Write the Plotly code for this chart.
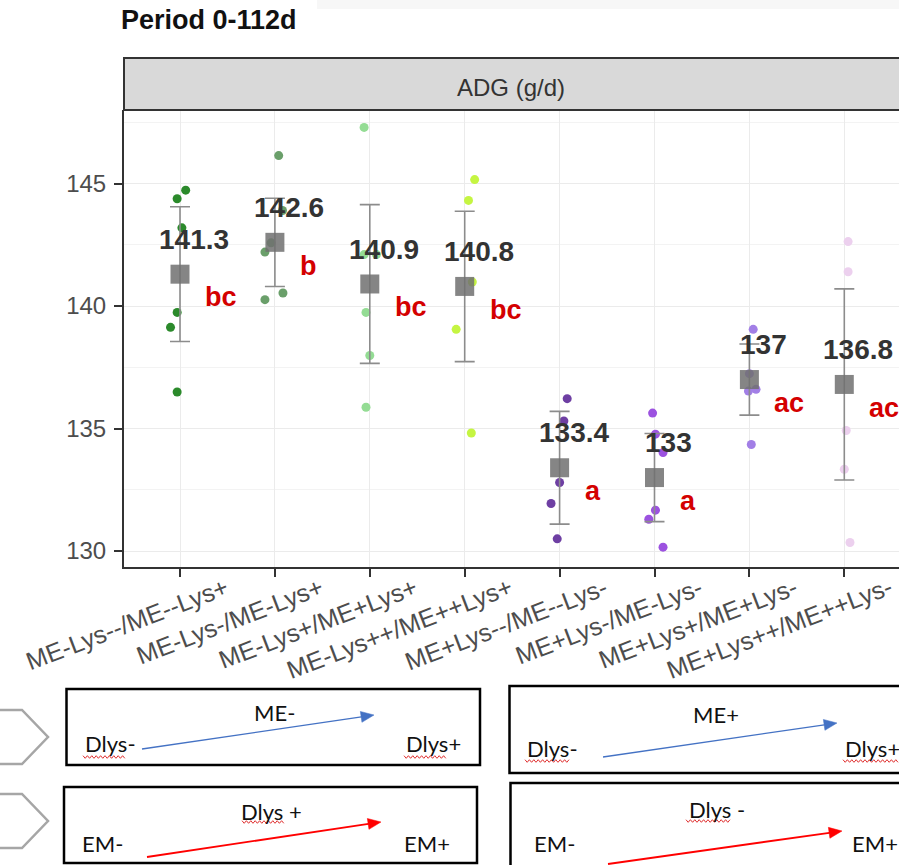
import plotly.graph_objects as go

W, H = 899, 865
FONT = "Liberation Sans, Arial, sans-serif"
NOTE_FONT = "Lato, Carlito, Calibri, sans-serif"

# ---------------------------------------------------------------- data
treatments = [
    "ME-Lys--/ME--Lys+", "ME-Lys-/ME-Lys+", "ME-Lys+/ME+Lys+", "ME-Lys++/ME++Lys+",
    "ME+Lys--/ME--Lys-", "ME+Lys-/ME-Lys-", "ME+Lys+/ME+Lys-", "ME+Lys++/ME++Lys-",
]
adg_mean = [141.3, 142.6, 140.9, 140.8, 133.4, 133.0, 137.0, 136.8]
adg_se = [2.75, 1.8, 3.24, 3.07, 2.3, 1.8, 1.45, 3.9]
sig_letters = ["bc", "b", "bc", "bc", "a", "a", "ac", "ac"]

# individual pen ADG values per treatment
pen_adg = [
    [144.38, 144.73, 143.19, 139.74, 139.13, 136.49],
    [146.14, 143.90, 142.58, 142.20, 140.26, 140.53],
    [147.29, 142.10, 142.10, 139.74, 137.98, 135.87],
    [145.16, 144.31, 140.98, 139.05, 134.82],
    [136.22, 135.31, 132.80, 131.94, 130.50],
    [135.63, 134.77, 134.02, 131.67, 131.30, 130.16],
    [139.05, 137.24, 136.53, 136.60, 134.35],
    [142.63, 141.40, 134.92, 133.34, 130.35],
]
# horizontal jitter of the pen points (category units)
pen_jitter = [
    [-0.03, 0.06, 0.02, -0.03, -0.10, -0.03],
    [0.04, 0.08, -0.04, -0.105, -0.105, 0.085],
    [-0.06, -0.06, 0.07, -0.04, 0.0, -0.04],
    [0.105, 0.04, 0.08, -0.09, 0.07],
    [0.08, 0.045, 0.0, -0.09, -0.025],
    [-0.02, 0.01, 0.09, 0.01, -0.06, 0.09],
    [0.04, 0.0, -0.01, 0.07, 0.02],
    [0.04, 0.04, 0.02, 0.0, 0.06],
]
point_colors = ["#2b8a2b", "#6a9f6a", "#94dc94", "#c5f542",
                "#6e3fa3", "#9c52e0", "#a27fe6", "#ecd0ee"]

y_ticks = [130, 135, 140, 145]
y_minor = [132.5, 137.5, 142.5, 147.5]


def xp(x):
    return x / W


def yp(y):
    return 1 - y / H


fig = go.Figure()

# pen-level points
for i, (vals, jit, col) in enumerate(zip(pen_adg, pen_jitter, point_colors)):
    fig.add_trace(go.Scatter(
        x=[i + j for j in jit], y=vals, mode="markers",
        marker=dict(size=9, color=col, line=dict(width=0)),
        showlegend=False, hoverinfo="y"))

# treatment means with error bars
fig.add_trace(go.Scatter(
    x=list(range(len(treatments))), y=adg_mean, mode="markers",
    marker=dict(symbol="square", size=19, color="rgba(112,112,112,0.85)",
                line=dict(width=0)),
    error_y=dict(type="data", array=adg_se, color="#8c8c8c", thickness=1.6, width=10),
    showlegend=False, hoverinfo="y"))

ann = []
# mean value labels and significance letters
for i, (m, let) in enumerate(zip(adg_mean, sig_letters)):
    ann.append(dict(x=i, y=m + 1.42, xref="x", yref="y", text=f"{m:g}",
                    showarrow=False, xanchor="center", yanchor="middle", xshift=14,
                    font=dict(family=FONT, size=28, color="#333333", weight="bold")))
    ann.append(dict(x=i, y=m - 0.95, xref="x", yref="y", text=let,
                    showarrow=False, xanchor="left", yanchor="middle", xshift=23,
                    font=dict(family=FONT, size=27, color="#d40000", weight="bold")))

# rotated category labels
for i, lab in enumerate(treatments):
    ann.append(dict(x=i, y=yp(570), xref="x", yref="paper", text=lab,
                    showarrow=False, xanchor="right", yanchor="top", xshift=54,
                    textangle=-21,
                    font=dict(family=FONT, size=25, color="#4d4d4d")))

# title and facet strip label
ann.append(dict(x=xp(119), y=yp(20), xref="paper", yref="paper", text="Period 0-112d",
                showarrow=False, xanchor="left", yanchor="middle",
                font=dict(family=FONT, size=27, color="#111111", weight="bold")))
ann.append(dict(x=xp(511), y=yp(87), xref="paper", yref="paper", text="ADG (g/d)",
                showarrow=False, xanchor="center", yanchor="middle",
                font=dict(family=FONT, size=24, color="#333333")))

shapes = []
# faint band along the top edge
shapes.append(dict(type="rect", xref="paper", yref="paper", x0=xp(317), x1=xp(905),
                   y0=yp(9), y1=yp(-5), fillcolor="#f7f7f7", line=dict(width=0)))
# facet strip
shapes.append(dict(type="rect", xref="paper", yref="paper", x0=xp(124), x1=xp(905),
                   y0=yp(110), y1=yp(58), fillcolor="#d9d9d9",
                   line=dict(color="#333333", width=2)))

# ------------------------------------------------------ legend key boxes
def box(x0, y0, x1, y1):
    shapes.append(dict(type="rect", xref="paper", yref="paper",
                       x0=xp(x0), x1=xp(x1), y0=yp(y1), y1=yp(y0),
                       fillcolor="rgba(0,0,0,0)", line=dict(color="#000000", width=2.5)))


def chevron(ytop, ybot):
    ymid = (ytop + ybot) / 2
    pts = [(-5, ytop), (22, ytop), (48, ymid), (22, ybot), (-5, ybot)]
    path = "M " + " L ".join(f"{xp(x):.5f},{yp(y):.5f}" for x, y in pts)
    shapes.append(dict(type="path", xref="paper", yref="paper", path=path,
                       line=dict(color="#a6a6a6", width=2.5)))


def arrow(x0, y0, x1, y1, color, width):
    dx, dy = x1 - x0, y1 - y0
    d = (dx * dx + dy * dy) ** 0.5
    ux, uy = dx / d, dy / d
    hl, hw = 13, 5.5
    bx, by = x1 - ux * hl, y1 - uy * hl
    shapes.append(dict(type="line", xref="paper", yref="paper",
                       x0=xp(x0), y0=yp(y0), x1=xp(bx + ux * 2), y1=yp(by + uy * 2),
                       line=dict(color=color, width=width)))
    pts = [(x1, y1), (bx - uy * hw, by + ux * hw), (bx + uy * hw, by - ux * hw)]
    path = "M " + " L ".join(f"{xp(x):.5f},{yp(y):.5f}" for x, y in pts) + " Z"
    shapes.append(dict(type="path", xref="paper", yref="paper", path=path,
                       fillcolor=color, line=dict(color=color, width=0.5)))


def squiggle(x0, x1, y):
    pts = []
    x, k = x0, 0
    while x <= x1:
        pts.append((x, y + (1.3 if k % 2 else -1.3)))
        x += 2.2
        k += 1
    path = "M " + " L ".join(f"{xp(a):.5f},{yp(b):.5f}" for a, b in pts)
    shapes.append(dict(type="path", xref="paper", yref="paper", path=path,
                       line=dict(color="#e03030", width=1)))


def note(x, y, text, anchor="left"):
    ann.append(dict(x=xp(x), y=yp(y), xref="paper", yref="paper", text=text,
                    showarrow=False, xanchor=anchor, yanchor="middle",
                    font=dict(family=NOTE_FONT, size=22, color="#111111")))


chevron(710, 764)
chevron(794, 848)

box(66.5, 689, 480, 765)
box(509.5, 686, 910, 773)
box(64, 787, 477, 863)
box(510.5, 783, 910, 880)

arrow(142, 749, 374, 715, "#4472c4", 1.3)
arrow(603, 757, 837, 723, "#4472c4", 1.3)
arrow(147, 857, 381, 822, "#ff0000", 1.8)
arrow(608, 864, 842, 831, "#ff0000", 1.8)

note(274, 712, "ME-", "center")
note(83, 743, "Dlys-")
note(404, 743, "Dlys+")
note(716, 714, "ME+", "center")
note(525, 748, "Dlys-")
note(843, 748, "Dlys+")
note(271, 811, "Dlys +", "center")
note(80, 843, "EM-")
note(402, 843, "EM+")
note(717, 809, "Dlys -", "center")
note(532, 843, "EM-")
note(850, 843, "EM+")

squiggle(83, 126, 757)
squiggle(404, 447, 757)
squiggle(525, 571, 761)
squiggle(843, 899, 761)
squiggle(242, 284, 822)
squiggle(686, 732, 821)

x_left = -(180 - 124) / 94.9
x_right = x_left + (W - 124) / 94.9

fig.update_layout(
    width=W, height=H,
    margin=dict(l=0, r=0, t=0, b=0),
    paper_bgcolor="white", plot_bgcolor="white",
    font=dict(family=FONT),
    annotations=ann, shapes=shapes,
    xaxis=dict(domain=[xp(124), 1], range=[x_left, x_right],
               tickvals=list(range(len(treatments))), showticklabels=False,
               ticks="outside", ticklen=8, tickwidth=1.5, tickcolor="#333333",
               showline=True, linecolor="#333333", linewidth=2,
               showgrid=True, gridcolor="#ebebeb", gridwidth=1.4, zeroline=False),
    yaxis=dict(domain=[yp(567), yp(110)], range=[129.35, 148.0],
               tickvals=y_ticks, ticks="outside", ticklen=8, tickwidth=1.5,
               tickcolor="#333333", ticklabelstandoff=3,
               tickfont=dict(family=FONT, size=24, color="#4d4d4d"),
               showline=True, linecolor="#333333", linewidth=2,
               showgrid=True, gridcolor="#ebebeb", gridwidth=1.4, zeroline=False,
               minor=dict(tickvals=y_minor, showgrid=True, gridcolor="#f3f3f3",
                          gridwidth=0.9, ticks="")),
)

fig.write_html("out.html")
